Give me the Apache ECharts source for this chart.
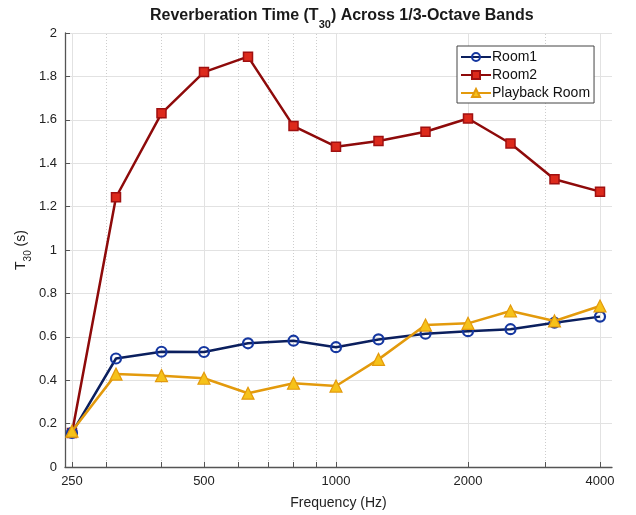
<!DOCTYPE html>
<html>
<head>
<meta charset="utf-8">
<script src="https://cdn.jsdelivr.net/npm/echarts@6/dist/echarts.min.js"></script>
<style>
  html, body { margin: 0; padding: 0; background: #fff; }
  #chart { width: 636px; height: 515px; }
</style>
</head>
<body>
<div id="chart"></div>
<script>
// 1/3-octave band centre frequencies (Hz)
const bands = [250, 315, 400, 500, 630, 800, 1000, 1250, 1600, 2000, 2500, 3150, 4000];

// Measured T30 (s) per band
const room1 = [0.157, 0.500, 0.531, 0.530, 0.570, 0.582, 0.552, 0.588, 0.614, 0.626, 0.635, 0.665, 0.693];
const room2 = [0.157, 1.243, 1.630, 1.820, 1.891, 1.571, 1.476, 1.502, 1.545, 1.606, 1.491, 1.326, 1.269];
const playback = [0.165, 0.428, 0.421, 0.409, 0.340, 0.386, 0.373, 0.496, 0.654, 0.662, 0.719, 0.673, 0.742];

// Axis ticks
const majorTicks = [250, 500, 1000, 2000, 4000];
const minorTicks = [300, 400, 600, 700, 800, 900, 3000];

const font = '"Liberation Sans", Arial, Helvetica, sans-serif';
const pairs = (vals) => bands.map((f, i) => [f, vals[i]]);

const chart = echarts.init(document.getElementById('chart'), null, { renderer: 'canvas' });

const option = {
  animation: false,
  backgroundColor: '#ffffff',
  textStyle: { fontFamily: font },
  title: {
    text: '{b|Reverberation Time (T}{s|30}{b|) Across 1/3-Octave Bands}',
    left: 145,
    top: -1,
    textStyle: {
      rich: {
        b: { fontFamily: font, fontWeight: 'bold', fontSize: 16, color: '#1a1a1a', verticalAlign: 'bottom', lineHeight: 20 },
        s: { fontFamily: font, fontWeight: 'bold', fontSize: 11, color: '#1a1a1a', verticalAlign: 'bottom', lineHeight: 13, padding: [0, 0, -6, 0] }
      }
    }
  },
  legend: {
    orient: 'vertical',
    left: 457,
    top: 46,
    padding: [4, 4, 3, 3],
    itemGap: 4,
    itemWidth: 30,
    itemHeight: 10,
    backgroundColor: '#ffffff',
    borderColor: '#444',
    borderWidth: 1,
    textStyle: { fontFamily: font, fontSize: 14, color: '#111', padding: [0, 0, 0, -4] },
    data: ['Room1', 'Room2', 'Playback Room']
  },
  grid: { left: 65, right: 24, top: 33, bottom: 47.5, containLabel: false },
  xAxis: {
    type: 'log',
    logBase: 2,
    min: 241,
    max: 4260,
    name: 'Frequency (Hz)',
    nameLocation: 'middle',
    nameGap: 29,
    nameTextStyle: { fontFamily: font, fontSize: 14, color: '#222' },
    axisLine: { show: true, onZero: false, lineStyle: { color: '#555', width: 1.3 } },
    axisTick: { show: true, inside: true, length: 5, customValues: majorTicks.concat(minorTicks), lineStyle: { color: '#555' } },
    axisLabel: {
      show: true,
      customValues: majorTicks,
      formatter: (v) => String(Math.round(v)),
      fontFamily: font, fontSize: 13, color: '#222', margin: 8
    },
    minorTick: { show: false },
    splitLine: { show: false },
    minorSplitLine: { show: false }
  },
  yAxis: {
    type: 'value',
    min: 0,
    max: 2,
    interval: 0.2,
    name: '{t|T}{s|30}{t| (s)}',
    nameLocation: 'middle',
    nameRotate: 90,
    nameGap: 37,
    nameMoveOverlap: false,
    nameTextStyle: {
      rich: {
        t: { fontFamily: font, fontSize: 14, color: '#222', verticalAlign: 'bottom', lineHeight: 18 },
        s: { fontFamily: font, fontSize: 10, color: '#222', verticalAlign: 'bottom', lineHeight: 12, padding: [0, 0, -5, 0] }
      }
    },
    axisLine: { show: true, lineStyle: { color: '#555', width: 1.3 } },
    axisTick: { show: true, inside: true, length: 5, lineStyle: { color: '#555' } },
    axisLabel: { fontFamily: font, fontSize: 13, color: '#222', margin: 8 },
    splitLine: { show: true, lineStyle: { color: '#e2e2e2', width: 1 } }
  },
  series: [
    {
      // vertical grid lines on the frequency axis
      name: 'grid',
      type: 'line',
      data: [],
      silent: true,
      z: 0,
      markLine: {
        silent: true,
        z: 0,
        symbol: 'none',
        label: { show: false },
        emphasis: { disabled: true },
        animation: false,
        data: majorTicks.map(v => ({ xAxis: v, lineStyle: { color: '#e2e2e2', width: 1, type: 'solid' } }))
          .concat(minorTicks.map(v => ({ xAxis: v, lineStyle: { color: '#cdcdcd', width: 1, type: [1, 2] } })))
      }
    },
    {
      name: 'Room1',
      type: 'line',
      data: pairs(room1),
      z: 4,
      symbol: 'circle',
      symbolSize: 10,
      lineStyle: { color: '#0b1f5e', width: 2.5 },
      itemStyle: { color: 'rgba(255,255,255,0)', borderColor: '#1537a0', borderWidth: 2.2 }
    },
    {
      name: 'Room2',
      type: 'line',
      data: pairs(room2),
      z: 3,
      symbol: 'rect',
      symbolSize: 9,
      lineStyle: { color: '#8e0a0a', width: 2.5 },
      itemStyle: { color: '#dd2a1c', borderColor: '#a01010', borderWidth: 1.5 }
    },
    {
      name: 'Playback Room',
      type: 'line',
      data: pairs(playback),
      z: 5,
      symbol: 'triangle',
      symbolSize: 12,
      lineStyle: { color: '#e39a0c', width: 2.5 },
      itemStyle: { color: '#f6c21a', borderColor: '#e39a0c', borderWidth: 1.2 }
    }
  ]
};

chart.setOption(option);
</script>
</body>
</html>
